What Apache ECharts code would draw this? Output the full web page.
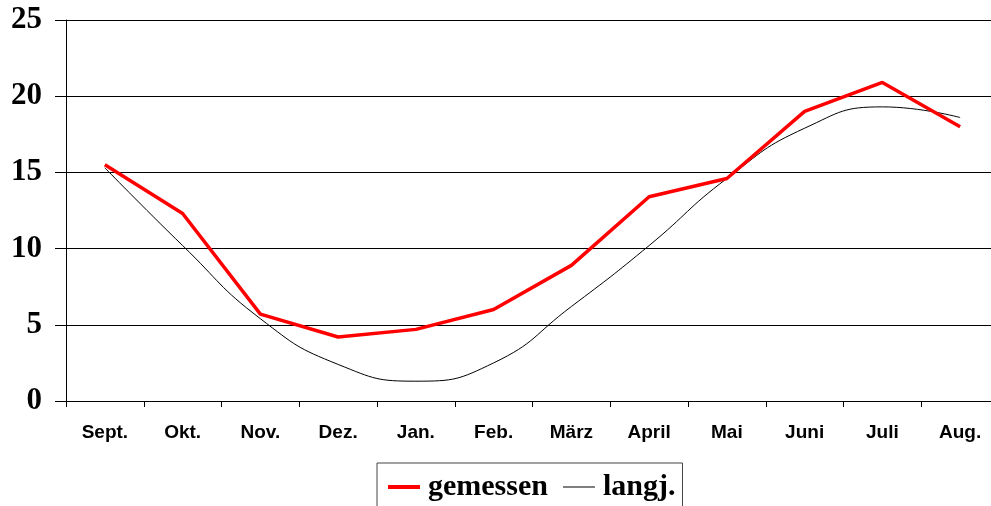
<!DOCTYPE html>
<html>
<head>
<meta charset="utf-8">
<style>
html, body { margin: 0; padding: 0; background: #fff; }
#main { width: 991px; height: 506px; }
</style>
<script src="https://cdn.jsdelivr.net/npm/echarts@6/dist/echarts.min.js"></script>
</head>
<body>
<div id="main"></div>
<script>
// Monate (Sept. bis Aug.)
var months = ['Sept.', 'Okt.', 'Nov.', 'Dez.', 'Jan.', 'Feb.', 'März', 'April', 'Mai', 'Juni', 'Juli', 'Aug.'];
// gemessen (rot)
var gemessen = [15.5, 12.3, 5.7, 4.2, 4.7, 6.0, 8.9, 13.4, 14.6, 19.0, 20.9, 18.0];
// langjähriges Mittel (schwarz)
var langj = [15.3, 10.2, 5.4, 2.4, 1.3, 2.5, 6.2, 10.2, 14.6, 17.9, 19.3, 18.6];

var myChart = echarts.init(document.getElementById('main'));

var option = {
    animation: false,
    backgroundColor: '#fff',
    grid: {
        left: 66,
        top: 20,
        width: 933,
        height: 381,
        containLabel: false,
        outerBoundsMode: 'none'
    },
    legend: {
        data: [
            { name: 'gemessen', icon: 'path://M0 0h32v4h-32z' },
            { name: 'langj.', icon: 'path://M0 0h32v1h-32z' }
        ],
        left: 377,
        top: 463,
        padding: [9, 7, 30, 11],
        borderColor: '#444',
        borderWidth: 1,
        itemWidth: 32,
        itemHeight: 14,
        itemGap: 15,
        textStyle: {
            fontFamily: '"Liberation Serif", "Times New Roman", serif',
            fontWeight: 'bold',
            fontSize: 30,
            color: '#000',
            padding: [0, 0, 0, 3]
        }
    },
    xAxis: {
        type: 'category',
        data: months,
        boundaryGap: true,
        axisLine: { show: true, lineStyle: { color: '#000', width: 1 } },
        axisTick: { show: true, length: 6, lineStyle: { color: '#000' } },
        axisLabel: {
            margin: 22,
            color: '#000',
            fontFamily: '"Liberation Sans", Arial, sans-serif',
            fontWeight: 'bold',
            fontSize: 19
        },
        splitLine: { show: false }
    },
    yAxis: {
        type: 'value',
        min: 0,
        max: 25,
        interval: 5,
        axisLine: { show: true, lineStyle: { color: '#000', width: 1 } },
        axisTick: { show: true, length: 11, lineStyle: { color: '#000' } },
        axisLabel: {
            margin: 24,
            color: '#000',
            fontFamily: '"Liberation Serif", "Times New Roman", serif',
            fontWeight: 'bold',
            fontSize: 31
        },
        splitLine: { show: true, lineStyle: { color: '#000', width: 1 } }
    },
    series: [
        {
            name: 'gemessen',
            type: 'line',
            data: gemessen,
            symbol: 'none',
            smooth: false,
            itemStyle: { color: '#ff0000' },
            lineStyle: { color: '#ff0000', width: 3.5 },
            z: 3
        },
        {
            name: 'langj.',
            type: 'line',
            data: langj,
            symbol: 'none',
            smooth: true,
            itemStyle: { color: '#000' },
            lineStyle: { color: '#000', width: 1 },
            z: 2
        }
    ]
};

myChart.setOption(option);
</script>
</body>
</html>
